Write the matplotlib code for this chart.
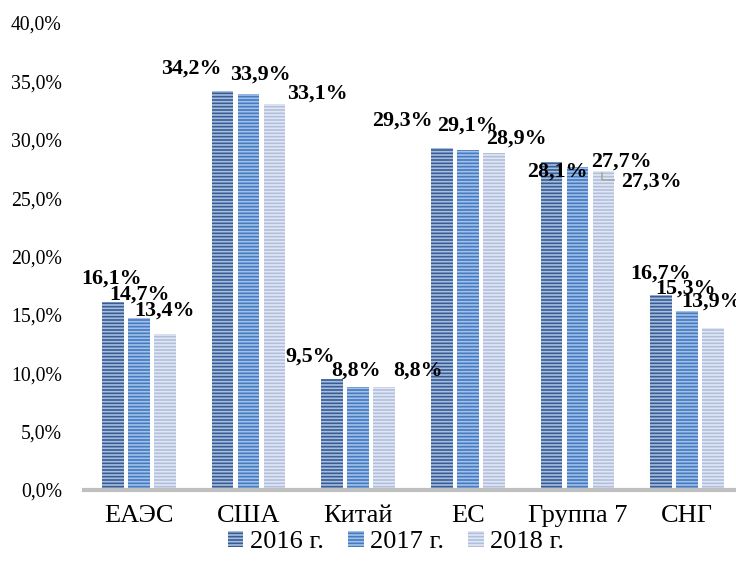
import matplotlib
matplotlib.use("Agg")
import matplotlib.pyplot as plt
import matplotlib.transforms as mtransforms
from matplotlib.ticker import FuncFormatter
from matplotlib.lines import Line2D
import numpy as np

categories = ["ЕАЭС", "США", "Китай", "ЕС", "Группа 7", "СНГ"]
years = ["2016 г.", "2017 г.", "2018 г."]
share_2016 = [16.1, 34.2, 9.5, 29.3, 28.1, 16.7]
share_2017 = [14.7, 33.9, 8.8, 29.1, 27.7, 15.3]
share_2018 = [13.4, 33.1, 8.8, 28.9, 27.3, 13.9]
y_ticks = [0, 5, 10, 15, 20, 25, 30, 35, 40]

series = [share_2016, share_2017, share_2018]
face_colors = ["#375d96", "#437ac0", "#b0bfdd"]
stripe_colors = ["#a9bedd", "#a3c1e8", "#e2e7f3"]

# label offsets (pixels) from the top centre of each bar
label_offsets = [
    [(-1, 23), (-31, 22), (-22, 22), (-39, 27), (6, -10), (-1, 21)],
    [(1, 24), (12, 20), (-2, 17), (0, 25), (44, 5), (-2, 23)],
    [(0, 23), (43, 10), (34, 17), (23, 14), (48, -10), (-2, 26)],
]

plt.rcParams["font.family"] = ["Liberation Serif", "DejaVu Serif"]
plt.rcParams["hatch.linewidth"] = 1.2

fig = plt.figure(figsize=(7.36, 5.64), dpi=100)
ax = fig.add_axes([84 / 736, 1 - 490 / 564, 658 / 736, 467 / 564])

x = np.arange(len(categories))
width = 0.2
step = 0.237
bars = []
for i, vals in enumerate(series):
    b = ax.bar(x + (i - 1) * step, vals, width, color=face_colors[i],
               edgecolor=stripe_colors[i], linewidth=0, hatch="-----",
               label=years[i], zorder=2)
    bars.append(b)
    for j, v in enumerate(vals):
        dx, dy = label_offsets[i][j]
        ax.annotate(f"{v:.1f}%".replace(".", ","), xy=(x[j] + (i - 1) * step, v),
                    xytext=(dx, dy), textcoords="offset pixels",
                    ha="center", va="center", fontsize=15.8,
                    fontweight="bold", color="black", zorder=4,
                    annotation_clip=False)

# leader line for the 2018 label of "Группа 7"
anchor = mtransforms.IdentityTransform() + mtransforms.ScaledTranslation(
    x[4] + step, share_2018[4], ax.transData)
ax.add_line(Line2D([-1, -1, 11], [-2, -9, -9], transform=anchor,
                   color="#a6a6a6", linewidth=1.2, zorder=3))

ax.set_xlim(-0.5, len(categories) - 0.5)
ax.set_ylim(0, 40)
ax.set_yticks(y_ticks)
ax.yaxis.set_major_formatter(FuncFormatter(lambda v, p: f"{v:.1f}%".replace(".", ",")))
ax.set_xticks(x)
ax.set_xticklabels(categories, fontsize=19)
ax.tick_params(axis="y", length=0, pad=16, labelsize=14.2)
ax.tick_params(axis="x", length=0, pad=11)

for side in ["top", "right", "left"]:
    ax.spines[side].set_visible(False)
ax.spines["bottom"].set_color("#bfbfbf")
ax.spines["bottom"].set_linewidth(3)

fig.legend(handles=bars, labels=years, loc="center",
           bbox_to_anchor=(396 / 736, 1 - 542 / 564), ncol=3, frameon=False,
           fontsize=19, handlelength=0.6, handleheight=0.55,
           handletextpad=0.25, columnspacing=0.9, borderaxespad=0,
           borderpad=0)

fig.savefig("out.png", dpi=100)
